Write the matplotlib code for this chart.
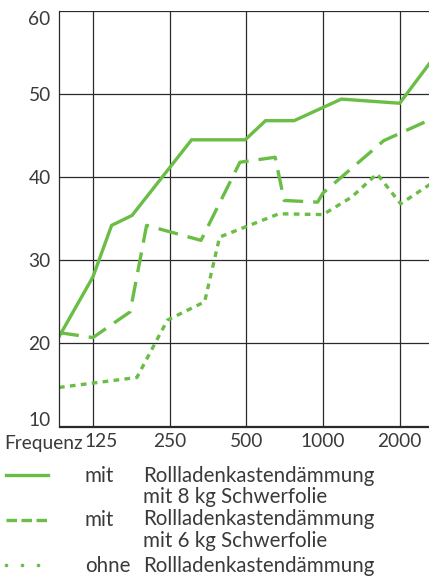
import matplotlib
matplotlib.use("Agg")
import matplotlib.pyplot as plt
from matplotlib.lines import Line2D

plt.rcParams['font.family'] = ['Lato', 'DejaVu Sans']

# ---- data (frequency in Hz, sound reduction in dB) ----
freq_solid = [92, 125, 148, 178, 305, 495, 595, 770, 1180, 2000, 2710]
val_solid = [20.8, 28.0, 34.2, 35.4, 44.5, 44.5, 46.8, 46.8, 49.4, 48.9, 54.3]

freq_dashed = [92, 125, 175, 203, 332, 472, 649, 704, 953, 1000, 1732, 2710]
val_dashed = [21.3, 20.7, 23.8, 34.2, 32.4, 41.8, 42.4, 37.2, 37.0, 38.1, 44.4, 47.1]

freq_dotted = [92, 186, 245, 343, 393, 672, 1000, 1295, 1629, 2018, 2710]
val_dotted = [14.7, 15.9, 22.8, 25.0, 32.8, 35.6, 35.5, 37.6, 40.4, 36.8, 39.4]

x_ticks = [125, 250, 500, 1000, 2000]
x_labels = ["125", "250", "500", "1000", "2000"]
y_ticks = [10, 20, 30, 40, 50, 60]
y_labels = ["10", "20", "30", "40", "50", "60"]

legend_prefix = ["mit", "mit", "ohne"]
legend_text = ["Rollladenkastendämmung\nmit 8 kg Schwerfolie",
               "Rollladenkastendämmung\nmit 6 kg Schwerfolie",
               "Rollladenkastendämmung"]

green = '#6abd45'
txt = '#3a3a3a'
grid = '#2a2a2a'
fs = 13.8
fs_leg = 14.8

W, H = 429, 576
fig = plt.figure(figsize=(W / 100, H / 100), dpi=100)
ax = fig.add_axes([59 / W, 1 - 426.5 / H, 1 - 59 / W + 0.01, (426.5 - 11) / H])

ax.set_xscale('log', base=2)
ax.set_xlim(92, 2710)
ax.set_ylim(10, 60)

lw = 2.4
ax.plot(freq_solid, val_solid, color=green, lw=lw, solid_joinstyle='miter')
ax.plot(freq_dashed, val_dashed, color=green, lw=lw, dashes=(6, 3))
ax.plot(freq_dotted, val_dotted, color=green, lw=lw, dashes=(1.7, 1.6))

# x tick labels: first one is drawn slightly right of its grid line (as in the original)
ax.set_xticks(x_ticks)
ax.set_xticklabels([""] + x_labels[1:])
ax.annotate(x_labels[0], xy=(x_ticks[0], 0), xycoords=('data', 'axes fraction'),
            xytext=(8 * 0.72, -5 * 0.72 - 1), textcoords='offset points',
            ha='center', va='top', fontsize=fs, color=txt)
ax.xaxis.set_minor_locator(matplotlib.ticker.NullLocator())
ax.set_yticks(y_ticks)
ax.set_yticklabels(y_labels)
for t in ax.get_yticklabels():
    if t.get_text() == "60":
        t.set_va('top')
    elif t.get_text() == "10":
        t.set_va('baseline')
ax.tick_params(length=0, labelsize=fs, colors=txt, pad=6)
ax.tick_params(axis='x', pad=5)
ax.grid(True, color=grid, lw=0.9)
for s in ['top', 'right']:
    ax.spines[s].set_visible(False)
for s in ['left', 'bottom']:
    ax.spines[s].set_color(grid)
    ax.spines[s].set_linewidth(0.9)

fig.text(4 / W, 1 - 443 / H, "Frequenz", fontsize=fs, color=txt, va='center', ha='left')

# legend
line_y = [474.5, 519.5, 565]
text_y = [476.5, 520, 566.5]
for i in range(3):
    y = 1 - line_y[i] / H
    if i == 0:
        fig.add_artist(Line2D([6 / W, 48 / W], [y, y], transform=fig.transFigure,
                              color=green, lw=lw))
    elif i == 1:
        fig.add_artist(Line2D([6 / W, 48 / W], [y, y], transform=fig.transFigure,
                              color=green, lw=lw, dashes=(3.15, 1.35)))
    else:
        fig.add_artist(Line2D([6 / W, 22 / W, 38 / W], [y, y, y], transform=fig.transFigure,
                              color=green, ls='none', marker='o', ms=2.6, mew=0))
    ty = 1 - text_y[i] / H
    fig.text(85 / W, ty, legend_prefix[i], fontsize=fs_leg, color=txt, va='center', ha='left')
    fig.text(143 / W, ty + 11 / H, legend_text[i], fontsize=fs_leg, color=txt, va='top',
             ha='left', linespacing=1.12)

fig.savefig("out.png", dpi=100)
